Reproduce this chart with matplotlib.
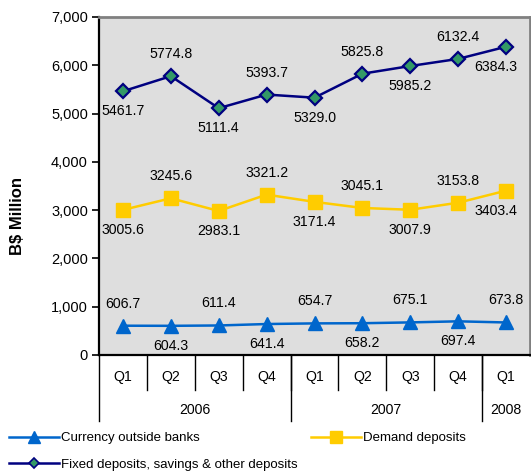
import matplotlib
matplotlib.use("Agg")
import matplotlib.pyplot as plt
from matplotlib.lines import Line2D
from matplotlib.ticker import FuncFormatter
import matplotlib.transforms as mtransforms

plt.rcParams['font.family'] = ['Liberation Sans', 'DejaVu Sans']

quarters = ["Q1", "Q2", "Q3", "Q4", "Q1", "Q2", "Q3", "Q4", "Q1"]
years = ["2006", "2007", "2008"]
year_counts = [4, 4, 1]

currency = [606.7, 604.3, 611.4, 641.4, 654.7, 658.2, 675.1, 697.4, 673.8]
demand = [3005.6, 3245.6, 2983.1, 3321.2, 3171.4, 3045.1, 3007.9, 3153.8, 3403.4]
fixed = [5461.7, 5774.8, 5111.4, 5393.7, 5329.0, 5825.8, 5985.2, 6132.4, 6384.3]

series_names = ["Currency outside banks", "Demand deposits",
                "Fixed deposits, savings & other deposits"]

W, H = 531, 476
fig = plt.figure(figsize=(W / 100, H / 100), dpi=100)
ax = fig.add_axes([99 / W, 1 - 355 / H, 431 / W, 338 / H])
ax.set_facecolor('#dedede')

x = list(range(len(quarters)))

ax.plot(x, currency, color='#0066cc', lw=1.8, marker='^', ms=10.5,
        mfc='#0066cc', mec='#0066cc', zorder=3)
ax.plot(x, demand, color='#ffcc00', lw=1.8, marker='s', ms=10,
        mfc='#ffcc00', mec='#ffcc00', zorder=3)
ax.plot(x, fixed, color='#000080', lw=1.8, marker='D', ms=7.5,
        mfc='#339966', mec='#000080', mew=1.6, zorder=4)

fs = 10.2
def label(vals, above_first, last_shift=0):
    n = len(vals)
    for i, v in enumerate(vals):
        above = (i % 2 == 0) == above_first
        dy = 22 if above else -20
        dx = last_shift if i == n - 1 else 0
        ax.annotate(f"{v:.1f}", (i, v), xytext=(dx, dy), textcoords='offset pixels',
                    ha='center', va='center', fontsize=fs, color='#000000', zorder=5)

label(currency, True)
label(demand, False, last_shift=-10)
label(fixed, False, last_shift=-10)

ax.set_xlim(-0.5, len(quarters) - 0.5)
ax.set_ylim(0, 7000)
ax.set_yticks(range(0, 7001, 1000))
ax.yaxis.set_major_formatter(FuncFormatter(lambda v, p: f"{int(v):,}"))
ax.tick_params(axis='y', labelsize=10.5, length=5, width=1.2, direction='out', pad=3)
ax.set_xticks([])

for side in ['top', 'right']:
    ax.spines[side].set_color('#808080')
    ax.spines[side].set_linewidth(2)
for side in ['left', 'bottom']:
    ax.spines[side].set_color('#000000')
    ax.spines[side].set_linewidth(1.6)

# category table below axis
trans = mtransforms.blended_transform_factory(ax.transData, ax.transAxes)
q_y = -22 / 338
q_line = -35 / 338
y_y = -55 / 338
y_line = -66 / 338
for i, q in enumerate(quarters):
    ax.text(i, q_y, q, transform=trans, ha='center', va='center', fontsize=fs)
for i in range(1, len(quarters)):
    ax.plot([i - 0.5, i - 0.5], [0, q_line], transform=trans, color='black',
            lw=1, clip_on=False)
start = 0
bounds = [-0.5]
for yr, c in zip(years, year_counts):
    ax.text(start + (c - 1) / 2, y_y, yr, transform=trans, ha='center',
            va='center', fontsize=fs)
    start += c
    bounds.append(start - 0.5)
for b in bounds[:-1]:
    ax.plot([b, b], [0, y_line], transform=trans, color='black', lw=1,
            clip_on=False)

fig.text(18 / W, 1 - 216 / H, "B$ Million", rotation=90, ha='center',
         va='center', fontsize=12, fontweight='bold')

handles = [
    Line2D([], [], color='#0066cc', lw=1.8, marker='^', ms=8, mfc='#0066cc', mec='#0066cc'),
    Line2D([], [], color='#000080', lw=1.8, marker='D', ms=5, mfc='#339966', mec='#000080', mew=1.2),
    Line2D([], [], color='#ffcc00', lw=1.8, marker='s', ms=8, mfc='#ffcc00', mec='#ffcc00'),
]
labels = [series_names[0], series_names[2], series_names[1]]
fig.legend(handles, labels, loc='upper left', bbox_to_anchor=(9 / W, 1 - 432 / H),
           ncol=2, frameon=False, fontsize=9.5, borderpad=0, borderaxespad=0,
           handlelength=3.8, handletextpad=0.15, columnspacing=1.0,
           labelspacing=1.1)

fig.savefig("out.png", dpi=100)
